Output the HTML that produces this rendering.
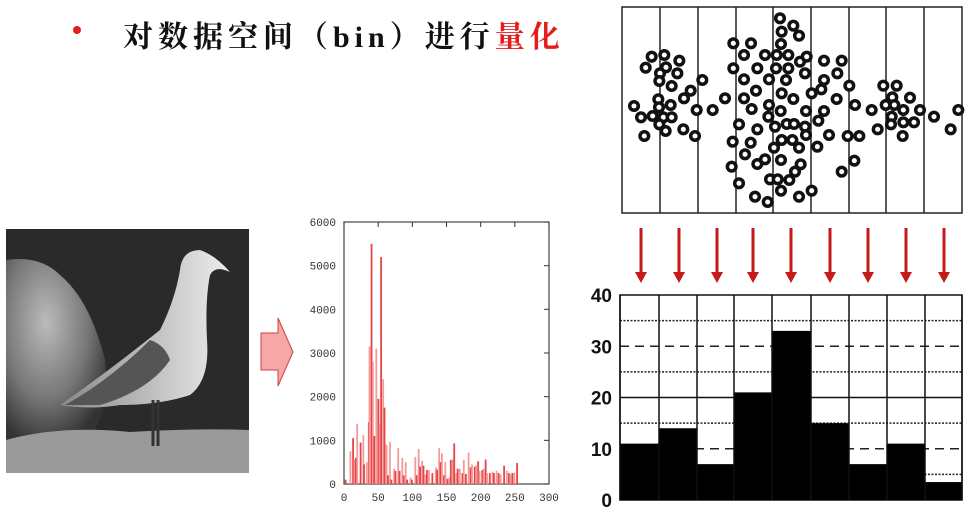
<!DOCTYPE html>
<html><head><meta charset="utf-8">
<style>
body{margin:0;width:970px;height:509px;background:#fff;overflow:hidden;position:relative;font-family:"Liberation Sans","Noto Sans CJK SC",sans-serif}
#title{position:absolute;left:123px;top:12px;font-size:30px;letter-spacing:5px;font-family:"Liberation Serif","Noto Serif CJK SC",serif;font-weight:bold;color:#111;white-space:nowrap}
#bullet{position:absolute;left:73px;top:26px;width:8px;height:8px;border-radius:50%;background:#e02020}
svg{position:absolute;left:0;top:0}
</style></head><body>
<div id="bullet"></div>
<div id="title">对数据空间（bin）进行<span style="color:#e51c1c">量化</span></div>
<svg width="970" height="509">
 <g>
  <defs>
   <radialGradient id="rockg" cx="0.4" cy="0.35" r="0.7"><stop offset="0" stop-color="#bbb"/><stop offset="0.6" stop-color="#777"/><stop offset="1" stop-color="#333"/></radialGradient>
   <linearGradient id="bodyg" x1="0" y1="0" x2="1" y2="0"><stop offset="0" stop-color="#888"/><stop offset="1" stop-color="#eee"/></linearGradient>
  </defs>
  <rect x="6" y="229" width="243" height="244" fill="#2a2a2a"/>
  <path d="M6 260 Q40 255 60 275 Q90 300 105 360 Q110 400 95 430 L6 440 Z" fill="url(#rockg)"/>
  <path d="M6 440 Q60 425 130 432 Q200 428 249 430 L249 473 L6 473 Z" fill="#9a9a9a"/>
  <path d="M60 405 Q110 370 160 330 Q175 300 180 270 Q182 250 200 250 Q215 255 230 272 Q215 265 210 275 Q205 300 207 340 Q210 380 190 395 Q160 405 120 405 Q90 410 60 405 Z" fill="url(#bodyg)"/>
  <path d="M65 405 Q110 380 150 340 Q165 345 170 360 Q150 390 100 405 Z" fill="#555"/>
  <line x1="153" y1="400" x2="153" y2="446" stroke="#333" stroke-width="3"/>
  <line x1="158" y1="400" x2="158" y2="446" stroke="#333" stroke-width="3"/>
 </g>
 <g>
  <path d="M261 333 L278 333 L278 318 L293 352 L278 386 L278 370 L261 370 Z" fill="#f6a8a8" stroke="#d04040" stroke-width="1"/>
 </g>
 <g id="hist"></g>
 <g id="scatter"></g>
 <g id="arrows"></g>
 <g id="bars"></g>
</svg>
<script>
const histBins=[1,8,12,14,16,18,23,27,28,32,35,36,39,41,43,46,49,51,53,56,58,61,63,66,68,72,74,78,80,84,86,89,91,96,98,103,105,108,110,113,115,118,120,123,128,133,135,138,140,142,145,147,150,153,155,158,160,163,165,168,172,174,177,181,184,186,190,192,195,197,201,203,206,208,212,216,218,222,225,228,233,237,240,242,245,248,252];
const histValues=[100,750,1050,550,600,1380,950,1120,450,500,1420,3150,5500,2800,1100,3100,1950,1380,5200,2400,1750,900,200,960,100,350,300,820,300,600,200,500,100,150,100,620,200,800,400,530,420,220,320,320,250,380,330,820,500,700,200,500,120,150,550,560,930,250,350,350,250,550,230,720,380,450,400,420,520,300,320,350,560,250,250,280,250,300,250,220,420,300,250,220,250,260,480];
const histXTicks=[0,50,100,150,200,250,300];
const histYTicks=[0,1000,2000,3000,4000,5000,6000];
const barCats=["b1","b2","b3","b4","b5","b6","b7","b8","b9"];
const barValues=[11,14,7,21,33,15,7,11,3.5];
const barYTicks=[0,10,20,30,40];
const dotX=[95,133,178,77,138,120,172,118,155,247,212,192,115,42,152,117,63,98,130,155,118,137,190,73,225,230,278,315,340,393,372,435,340,412,372,447,408,372,395,447,445,357,412,465,338,392,375,335,412,435,357,405,443,480,520,485,537,483,470,505,540,560,468,505,555,498,485,520,482,558,500,522,555,558,485,517,462,537,483,542,525,508,450,473,483,537,575,592,575,604,612,612,665,652,688,650,705,612,595,627,683,718,703,665,755,773,790,830,817,797,823,850,870,900,815,813,850,882,848,942,992,1015];
const dotY=[170,165,182,203,202,220,220,243,258,240,272,295,298,318,315,322,352,348,352,352,373,393,388,408,408,330,330,295,130,130,165,165,205,205,238,238,272,295,327,315,350,373,388,380,425,428,463,500,492,478,550,590,606,55,77,95,107,132,165,165,185,170,205,205,220,240,280,297,333,333,372,372,380,405,420,420,443,443,480,493,515,540,538,538,572,590,572,440,280,268,240,182,182,220,257,297,315,333,362,405,408,408,482,515,330,388,257,257,292,315,315,330,293,330,350,373,367,367,408,350,388,330];

const NS="http://www.w3.org/2000/svg";
function mk(parent,tag,attrs){const e=document.createElementNS(NS,tag);for(const k in attrs)e.setAttribute(k,attrs[k]);parent.appendChild(e);return e;}

// Histogram
const H=document.getElementById('hist');
const hx=v=>344+v*(549-344)/300, hy=v=>484-v*(484-222)/6000;
mk(H,'rect',{x:344,y:222,width:205,height:262,fill:'none',stroke:'#444','stroke-width':1.2});
histYTicks.forEach(t=>{const tx=mk(H,'text',{x:336,y:hy(t)+4,'text-anchor':'end','font-size':11,'font-family':'Liberation Mono, monospace',fill:'#333'});tx.textContent=t;


mk(H,'line',{x1:544,x2:549,y1:hy(t),y2:hy(t),stroke:'#333'});});
histXTicks.forEach(t=>{const tx=mk(H,'text',{x:hx(t),y:501,'text-anchor':'middle','font-size':11,'font-family':'Liberation Mono, monospace',fill:'#333'});tx.textContent=t;


mk(H,'line',{x1:hx(t),x2:hx(t),y1:222,y2:227,stroke:'#333'});});
histBins.forEach((b,i)=>{const v=histValues[i];const r=mk(H,'rect',{x:hx(b),y:hy(v),width:1.8,height:484-hy(v),fill:i%2?'#f49a9a':'#e54545'});

});

// Scatter
const S=document.getElementById('scatter');
mk(S,'rect',{x:622,y:7,width:340,height:206,fill:'#fff',stroke:'#222','stroke-width':1.5});
[660,698,736,773,811,849,886,924].forEach(x=>mk(S,'line',{x1:x,x2:x,y1:7,y2:213,stroke:'#222','stroke-width':1.5}));
dotX.forEach((x,i)=>{const c=mk(S,'circle',{cx:620+x/3,cy:dotY[i]/3,r:4.3,fill:'#fff',stroke:'#111','stroke-width':3.5});

});

// Arrows
const A=document.getElementById('arrows');
[641,679,717,753,791,830,868,906,944].forEach(x=>{mk(A,'line',{x1:x,x2:x,y1:228,y2:274,stroke:'#c41a1a','stroke-width':3});mk(A,'path',{d:`M${x-6} 272 L${x+6} 272 L${x} 283 Z`,fill:'#c41a1a'});});

// Bar chart
const B=document.getElementById('bars');
const bx0=620,bx1=962,by=v=>500-v*(500-295)/40;
const edges=[620,659,697,734,772,811,849,887,925,962];
mk(B,'rect',{x:bx0,y:295,width:bx1-bx0,height:205,fill:'#fff',stroke:'#111','stroke-width':1.5});
[35,25,15,5].forEach(v=>mk(B,'line',{x1:bx0,x2:bx1,y1:by(v),y2:by(v),stroke:'#222','stroke-width':1.5,'stroke-dasharray':'2,1.5'}));
[30,10].forEach(v=>mk(B,'line',{x1:bx0,x2:bx1,y1:by(v),y2:by(v),stroke:'#222','stroke-width':1.5,'stroke-dasharray':'9,6'}));
mk(B,'line',{x1:bx0,x2:bx1,y1:by(20),y2:by(20),stroke:'#111','stroke-width':1.5});
barValues.forEach((v,i)=>{const r=mk(B,'rect',{x:edges[i],y:by(v),width:edges[i+1]-edges[i],height:500-by(v),fill:'#000'});

});
edges.forEach(x=>mk(B,'line',{x1:x,x2:x,y1:295,y2:500,stroke:'#111','stroke-width':1.5}));
barYTicks.forEach(t=>{const tx=mk(B,'text',{x:612,y:by(t)+7,'text-anchor':'end','font-size':19,'font-weight':'bold',fill:'#111'});tx.textContent=t;

});
</script>
</body></html>
